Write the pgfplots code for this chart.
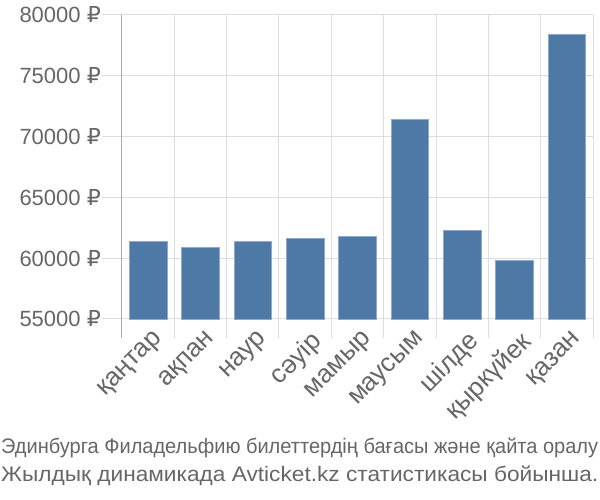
\documentclass[border=0pt]{standalone}
\usepackage{pgfplots}
\pgfplotsset{compat=1.18}
\usepackage{fontspec}
\setmainfont{Liberation Sans}
\newfontfamily\dejavu{DejaVu Sans}
\newcommand{\rub}{{\dejavu ₽}}
\definecolor{barblue}{RGB}{78,121,167}
\definecolor{txtgray}{RGB}{102,102,102}
\definecolor{gridgray}{RGB}{221,221,221}
\definecolor{axgray}{RGB}{170,170,170}
\begin{document}
\begin{tikzpicture}
\path[use as bounding box] (-122pt,-181pt) rectangle (478pt,319pt);
\begin{axis}[
  at={(0,0)}, anchor=south west,
  scale only axis,
  width=471pt, height=304pt,
  xmin=-0.5, xmax=8.5,
  ymin=55000, ymax=80000,
  scaled y ticks=false,
  axis x line*=bottom, axis y line*=left,
  x axis line style={draw=gridgray, line width=1pt, -},
  y axis line style={draw=axgray, line width=1pt, -, shorten <=-19pt},
  xtick={0,1,2,3,4,5,6,7,8},
  xticklabels={қаңтар,ақпан,наур,сәуір,мамыр,маусым,шілде,қыркүйек,қазан},
  minor xtick={-0.5,0.5,...,8.5},
  xminorgrids,
  minor x grid style={draw=gridgray, line width=1pt},
  major x tick style={draw=none},
  minor x tick style={draw=gridgray, line width=1pt},
  minor tick length=19pt,
  major tick length=20pt,
  tick align=outside,
  ytick={55000,60000,65000,70000,75000,80000},
  yticklabels={55000 \rub,60000 \rub,65000 \rub,70000 \rub,75000 \rub,80000 \rub},
  ymajorgrids,
  major y grid style={draw=gridgray, line width=1pt},
  y tick style={draw=gridgray, line width=1pt},
  tick label style={text=txtgray},
  yticklabel style={anchor=east, inner sep=1pt, font=\fontsize{22}{26}\selectfont},
  xticklabel style={rotate=45, anchor=north east, inner sep=0pt, yshift=4pt, xshift=10pt, font=\fontsize{26}{30}\selectfont},
  clip=false,
]
\addplot[ybar, bar width=37.4pt, bar shift=0pt, fill=barblue, draw={rgb,255:red,140;green,170;blue,205}, line width=0.7pt]
coordinates {(0,61400) (1,60900) (2,61400) (3,61600) (4,61800) (5,71400) (6,62250) (7,59800) (8,78400)};
\end{axis}
\node[anchor=base west, inner sep=0pt, text=txtgray, font=\fontsize{21}{25}\selectfont] at (-121pt,-135pt)
  {\resizebox{597pt}{\height}{Эдинбурга Филадельфию билеттердің бағасы және қайта оралу}};
\node[anchor=base west, inner sep=0pt, text=txtgray, font=\fontsize{21}{25}\selectfont] at (-121pt,-163pt)
  {\resizebox{597pt}{\height}{Жылдық динамикада Avticket.kz статистикасы бойынша.}};
\end{tikzpicture}
\end{document}
